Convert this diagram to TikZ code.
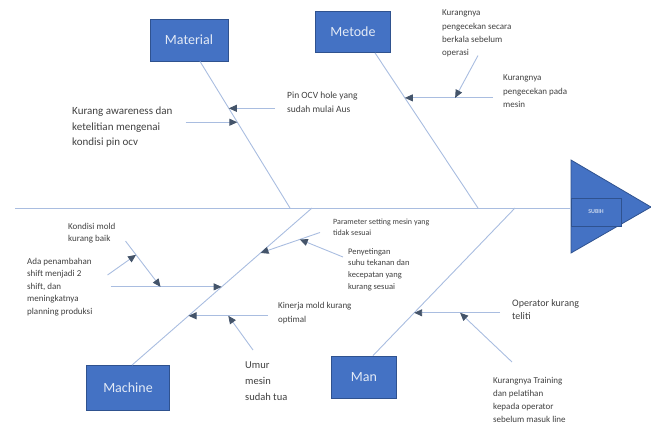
\documentclass[tikz,border=0pt]{standalone}
\usepackage{fontspec}
\setmainfont{Carlito}
\usepackage{xcolor}
\usepackage{tikz}
\usetikzlibrary{arrows.meta, calc}

\definecolor{catblue}{HTML}{4472C4}
\definecolor{catedge}{HTML}{2F528F}
\definecolor{bonecol}{HTML}{A9BDE0}
\definecolor{tipcol}{HTML}{44546A}
\definecolor{txtcol}{HTML}{404040}

\begin{document}
\begin{tikzpicture}[x=1pt, y=-1pt,
    cat/.style={draw=catedge, line width=0.8pt, fill=catblue, text=white!85!catblue, font=\fontsize{14}{16}\selectfont},
    bone/.style={draw=bonecol, line width=0.9pt},
    sub/.style={draw=bonecol, line width=0.9pt, -{Triangle[length=8pt, width=7pt, color=tipcol]}},
    cause/.style={align=left, inner sep=0pt, anchor=north west, text=txtcol, font=\fontsize{9}{13}\selectfont}
]
    \useasboundingbox (0,0) rectangle (651,426);

    % head and spine
    \draw[draw=catedge, line width=0.8pt, fill=catblue] (571,160) -- (651,207) -- (571,253) -- cycle;
    \node[draw=catedge, line width=0.6pt, fill=catblue, minimum width=50pt, minimum height=28pt, inner sep=0pt,
          text=white!70!catblue, font=\fontsize{6}{7}\selectfont\bfseries] (effect) at (596,212) {SUBIH};
    \coordinate (tail) at (15,208);
    \draw[bone] (tail) -- (effect.west |- tail);

    % categories
    \node[cat, minimum width=78pt, minimum height=42pt] (material) at (189,40) {Material};
    \node[cat, minimum width=75pt, minimum height=41pt] (metode) at (353,32) {Metode};
    \node[cat, minimum width=83pt, minimum height=45pt] (machine) at (128,388) {Machine};
    \node[cat, minimum width=65pt, minimum height=42pt] (man) at (364,377) {Man};

    \coordinate (matA) at ([xshift=11pt]material.south);
    \coordinate (matB) at (290,208);
    \coordinate (metA) at ([xshift=22pt]metode.south);
    \coordinate (metB) at (478,208);
    \coordinate (macA) at ([xshift=4pt]machine.north);
    \coordinate (macB) at (312,208);
    \coordinate (manA) at ([xshift=9pt]man.north);
    \coordinate (manB) at (515,208);
    \draw[bone] (matA) -- (matB);
    \draw[bone] (metA) -- (metB);
    \draw[bone] (macA) -- (macB);
    \draw[bone] (manA) -- (manB);

    % Material
    \node[cause, font=\fontsize{9.5}{14}\selectfont] (pin) at (287,92) {Pin OCV hole yang\\sudah mulai Aus};
    \node[cause, font=\fontsize{11}{15.5}\selectfont] (aware) at (72,107) {Kurang awareness dan\\ketelitian mengenai\\kondisi pin ocv};
    \coordinate (m1) at ($(matA)!0.32!(matB)$);
    \coordinate (m2) at ($(matA)!0.415!(matB)$);
    \draw[sub] ($(pin.west |- m1)+(-12,0)$) -- (m1);
    \draw[sub] ($(aware.east |- m2)+(13,0)$) -- (m2);

    % Metode
    \node[cause, font=\fontsize{9}{13.5}\selectfont] (mesin) at (503,75) {Kurangnya\\pengecekan pada\\mesin};
    \node[cause, font=\fontsize{9}{13.3}\selectfont] (berkala) at (442,10) {Kurangnya\\pengecekan secara\\berkala sebelum\\operasi};
    \coordinate (e1) at ($(metA)!0.29!(metB)$);
    \coordinate (e1s) at ($(mesin.west |- e1)+(-10,0)$);
    \coordinate (e2) at ($(e1)!0.57!(e1s)$);
    \draw[sub] (e1s) -- (e1);
    \draw[sub] ($(berkala.south west)+(36,-2)$) -- (e2);

    % Machine
    \node[cause, font=\fontsize{9}{12.5}\selectfont] (ada) at (27,258) {Ada penambahan\\shift menjadi 2\\shift, dan\\meningkatnya\\planning produksi};
    \node[cause, font=\fontsize{9}{12}\selectfont] (kondisi) at (68,223) {Kondisi mold\\kurang baik};
    \node[cause, font=\fontsize{9}{14}\selectfont] (kinerja) at (278,302) {Kinerja mold kurang\\optimal};
    \node[cause, font=\fontsize{10.5}{16}\selectfont] (umur) at (245,362) {Umur\\mesin\\sudah tua};
    \node[cause, font=\fontsize{8}{10.5}\selectfont] (param) at (333,219) {Parameter setting mesin yang\\tidak sesuai};
    \node[cause, font=\fontsize{8.5}{11.7}\selectfont] (peny) at (348,248) {Penyetingan\\suhu tekanan dan\\kecepatan yang\\kurang sesuai};
    \coordinate (c1) at ($(macA)!0.498!(macB)$);
    \coordinate (c1s) at ($(ada.east |- c1)+(18,0)$);
    \coordinate (kd) at ($(kondisi.east)+(10,8)$);
    \coordinate (c2) at ($(c1s)!0.45!(c1)$);
    \coordinate (c3) at ($(kd)!0.3!(c2)$);
    \coordinate (c4) at ($(macA)!0.314!(macB)$);
    \coordinate (c4s) at ($(kinerja.west |- c4)+(-10,0)$);
    \coordinate (c5) at ($(c4)!0.5!(c4s)$);
    \coordinate (c6) at ($(macA)!0.714!(macB)$);
    \coordinate (c6s) at ($(param.south west)+(-13,-3)$);
    \coordinate (c7) at ($(c6s)!0.34!(c6)$);
    \draw[sub] (c1s) -- (c1);
    \draw[sub] (kd) -- (c2);
    \draw[sub] ($(ada.north east)+(15,17)$) -- (c3);
    \draw[sub] (c4s) -- (c4);
    \draw[sub] ($(umur.north west)+(8,-12)$) -- (c5);
    \draw[sub] (c6s) -- (c6);
    \draw[sub] ($(peny.north west)+(-5,9)$) -- (c7);

    % Man
    \node[cause, font=\fontsize{10}{13}\selectfont] (oper) at (512,299) {Operator kurang\\teliti};
    \node[cause, font=\fontsize{9}{13}\selectfont] (train) at (493,377) {Kurangnya Training\\dan pelatihan\\kepada operator\\sebelum masuk line};
    \coordinate (n1) at ($(manA)!0.29!(manB)$);
    \coordinate (n1s) at ($(oper.west |- n1)+(-12,0)$);
    \coordinate (n2) at ($(n1)!0.535!(n1s)$);
    \draw[sub] (n1s) -- (n1);
    \draw[sub] ($(train.north west)+(19,-15)$) -- (n2);
\end{tikzpicture}
\end{document}
